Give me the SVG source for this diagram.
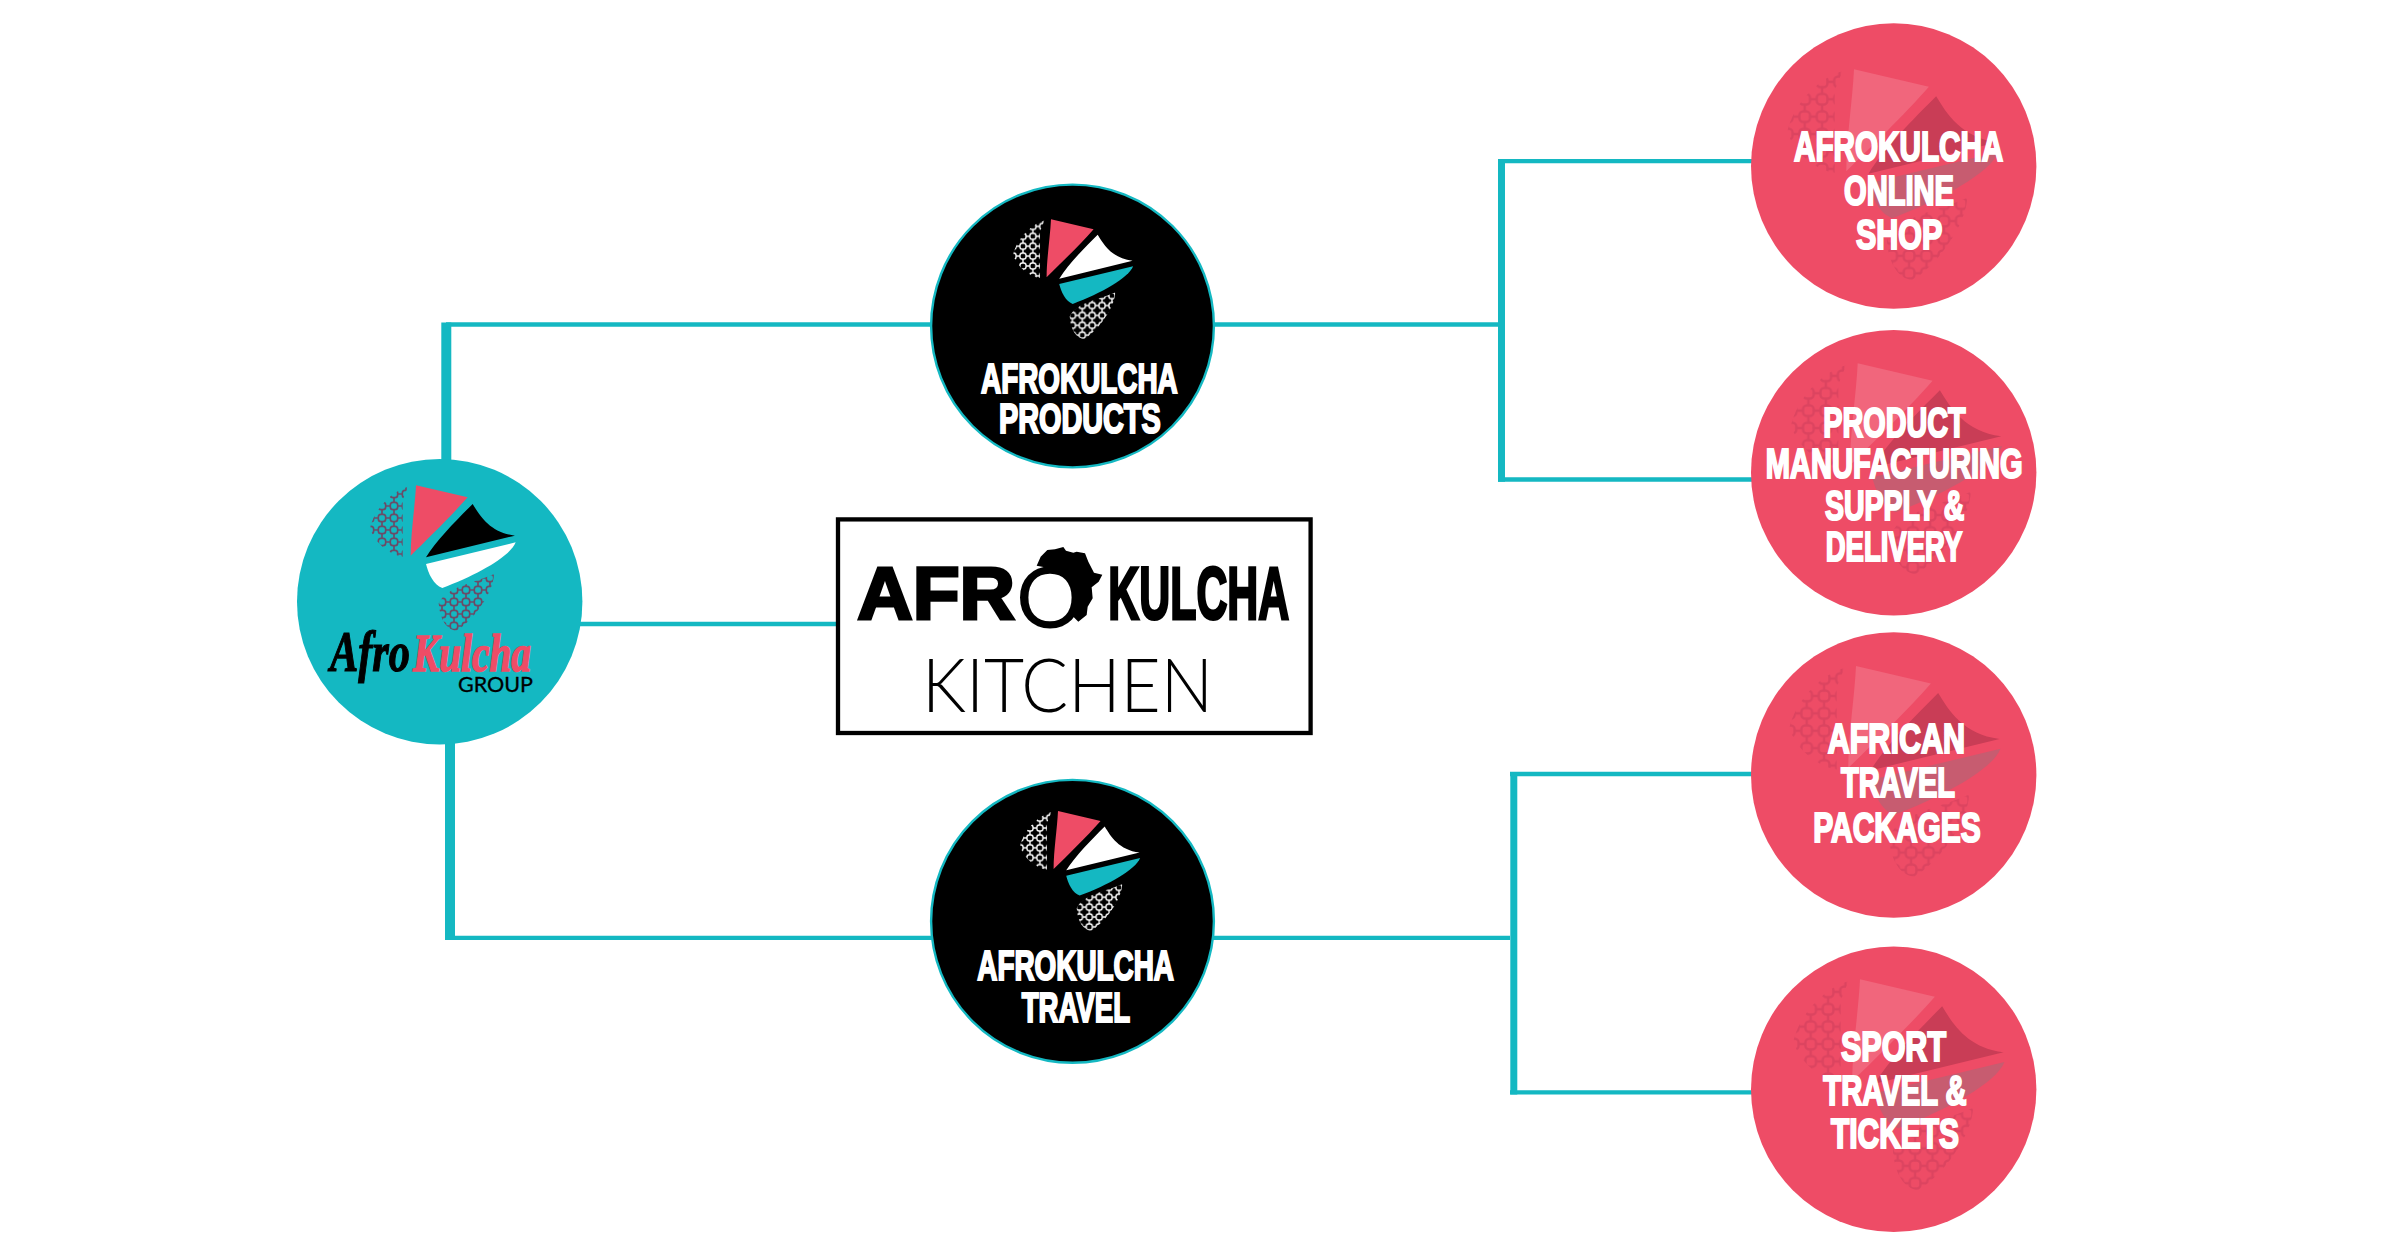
<svg xmlns="http://www.w3.org/2000/svg" width="2398" height="1247" viewBox="0 0 2398 1247">
<style>
.bg{fill:#fff}
.c{fill:none;stroke:#14b8c2;stroke-linejoin:miter}
.thin{stroke-width:4.3}
.mid{stroke-width:7}
.wide{stroke-width:10}
.teal{fill:#14b8c2}
.dark{fill:#000;stroke:#14b8c2;stroke-width:2.4}
.pink{fill:#ee4c66}
.h{font-family:"Liberation Sans",Arial,sans-serif;font-weight:700;font-size:42px;fill:#fff;stroke:#fff;stroke-width:2.2}
.k{font-family:"Liberation Sans",Arial,sans-serif;font-weight:700;font-size:74px;fill:#000;stroke:#000;stroke-width:3}
.lg{--a:#ee4c66;--b:#000;--c:#fff}
.ld{--a:#ee4c66;--b:#fff;--c:#14b8c2}
.lp{--a:#f1667c;--b:#c93d56;--c:#c75c70}
.p1{fill:var(--a)}.p2{fill:var(--b)}.p3{fill:var(--c)}
.ml{stroke:#6b4a66;fill:none;stroke-width:5}
.mw{stroke:#fff;fill:none;stroke-width:5}
.mp{stroke:#dc4460;fill:none;stroke-width:5}
</style>
<defs>
<g id="cell"><rect x="7" y="7" width="22" height="22" rx="8"/><path d="M0 18H7M29 18H36M18 0V7M18 29V36"/></g>
<pattern id="meshG" patternUnits="userSpaceOnUse" width="36" height="36" class="ml"><use href="#cell"/></pattern>
<pattern id="meshD" patternUnits="userSpaceOnUse" width="36" height="36" class="mw"><use href="#cell"/></pattern>
<pattern id="meshP" patternUnits="userSpaceOnUse" width="36" height="36" class="mp"><use href="#cell"/></pattern>
<g id="shapes" transform="scale(.33333) translate(-270,-136)">
<path class="p1" d="M408 136L563 172C510 232 440 300 392 347C392 280 405 200 408 136Z"/>
<path class="p2" d="M578 192C600 228 630 278 705 287L438 352C470 300 530 240 578 192Z"/>
<path class="p3" d="M707 307C690 350 590 405 487 444C460 435 445 400 438 372Z"/>
</g>
<path id="m1" d="M384 140C330 155 280 215 270 265C285 310 330 345 368 350V180Z"/>
<path id="m2" d="M642 402C640 460 580 540 530 572C500 570 480 540 476 490C500 440 580 430 642 402Z"/>
</defs>
<rect class="bg" width="2398" height="1247"/>
<g id="connectors">
<path class="c thin" d="M446 324.5H932"/>
<path class="c wide" d="M446.3 322.4V480"/>
<path class="c thin" d="M450 937.8H932"/>
<path class="c wide" d="M450 730V940"/>
<path class="c thin" d="M575 624H838"/>
<path class="c thin" d="M1210 324.5H1498"/>
<path class="c mid" d="M1501.5 159V481.7"/>
<path class="c thin" d="M1498 161.1H1755M1498 479.5H1755"/>
<path class="c thin" d="M1210 937.8H1510"/>
<path class="c mid" d="M1513.8 772V1094.4"/>
<path class="c thin" d="M1510 774H1755M1510 1092.3H1755"/>
</g>
<g id="node-group">
<circle class="teal" cx="439.7" cy="601.7" r="142.7"/>
<g class="lg" transform="translate(370,485.3)"><use href="#shapes"/><g transform="scale(.33333) translate(-270,-136)"><use href="#m1" fill="url(#meshG)"/><use href="#m2" fill="url(#meshG)"/></g></g>
<text x="330" y="671" font-family="'Liberation Serif',serif" font-style="italic" font-weight="700" font-size="58" fill="#000" stroke="#000" stroke-width="1.2" textLength="80" lengthAdjust="spacingAndGlyphs">Afro</text>
<text x="413" y="671" font-family="'Liberation Serif',serif" font-style="italic" font-weight="700" font-size="52" fill="#ee4c66" stroke="#ee4c66" stroke-width="1.6" textLength="118" lengthAdjust="spacingAndGlyphs">Kulcha</text>
<text x="458" y="692.3" font-family="Lato,'Liberation Sans',sans-serif" font-size="21" fill="#000" stroke="#000" stroke-width=".3" textLength="75" lengthAdjust="spacingAndGlyphs">GROUP</text>
</g>
<g id="node-products">
<circle class="dark" cx="1072.5" cy="326" r="141.4"/>
<g class="ld" transform="translate(1013.1,219.3) scale(.824)"><use href="#shapes"/><g transform="scale(.33333) translate(-270,-136)"><use href="#m1" fill="url(#meshD)"/><use href="#m2" fill="url(#meshD)"/></g></g>
<text class="h" x="981" y="392.5" font-size="40" textLength="196.7" lengthAdjust="spacingAndGlyphs">AFROKULCHA</text>
<text class="h" x="999" y="433.3" font-size="40" textLength="161.7" lengthAdjust="spacingAndGlyphs">PRODUCTS</text>
</g>
<g id="node-kitchen">
<rect x="838" y="519.4" width="472.6" height="213.6" fill="#fff" stroke="#000" stroke-width="4.3"/>
<path fill="#000" transform="translate(820,500) scale(.33333)" d="M650 197L662 170L682 150L705 148L730 141L738 152L760 158L770 155L795 160L805 185L815 205L822 218L847 224L836 245L815 262L818 295L803 320L800 345L775 365L740 330L690 205Z"/>
<circle cx="1050" cy="597.5" r="26" fill="#fff"/>
<text class="k" x="857.3" y="619" textLength="157.7" lengthAdjust="spacingAndGlyphs">AFR</text>
<text x="1050" y="627.5" text-anchor="middle" font-family="Lato,'Liberation Sans',sans-serif" font-size="85" fill="#000">O</text>
<text class="k" x="1108.3" y="619" textLength="181" lengthAdjust="spacingAndGlyphs">KULCHA</text>
<text x="922" y="711.7" font-family="Lato,'Liberation Sans',sans-serif" font-weight="300" font-size="74" fill="#000" textLength="291" lengthAdjust="spacingAndGlyphs">KITCHEN</text>
</g>
<g id="node-travel">
<circle class="dark" cx="1072.5" cy="921.3" r="141.4"/>
<g class="ld" transform="translate(1020.1,811) scale(.824)"><use href="#shapes"/><g transform="scale(.33333) translate(-270,-136)"><use href="#m1" fill="url(#meshD)"/><use href="#m2" fill="url(#meshD)"/></g></g>
<text class="h" x="977.3" y="979.7" font-size="40" textLength="196.7" lengthAdjust="spacingAndGlyphs">AFROKULCHA</text>
<text class="h" x="1021.7" y="1021.7" font-size="40" textLength="108.3" lengthAdjust="spacingAndGlyphs">TRAVEL</text>
</g>
<g id="node-online-shop">
<circle class="pink" cx="1893.7" cy="166" r="142.7"/>
<g class="lp" transform="translate(1787.3,69.3) scale(1.45)"><use href="#shapes"/><g transform="scale(.33333) translate(-270,-136)"><use href="#m1" fill="url(#meshP)"/><use href="#m2" fill="url(#meshP)"/></g></g>
<text class="h" x="1794" y="160.7" textLength="209.3" lengthAdjust="spacingAndGlyphs">AFROKULCHA</text>
<text class="h" x="1844" y="204.7" textLength="110" lengthAdjust="spacingAndGlyphs">ONLINE</text>
<text class="h" x="1856" y="249" textLength="86.3" lengthAdjust="spacingAndGlyphs">SHOP</text>
</g>
<g id="node-manufacturing">
<circle class="pink" cx="1893.7" cy="472.7" r="142.7"/>
<g class="lp" transform="translate(1791,363.3) scale(1.45)"><use href="#shapes"/><g transform="scale(.33333) translate(-270,-136)"><use href="#m1" fill="url(#meshP)"/><use href="#m2" fill="url(#meshP)"/></g></g>
<text class="h" x="1823.3" y="436.7" textLength="142.4" lengthAdjust="spacingAndGlyphs">PRODUCT</text>
<text class="h" x="1765.7" y="478.3" textLength="257" lengthAdjust="spacingAndGlyphs">MANUFACTURING</text>
<text class="h" x="1825" y="520" textLength="139.3" lengthAdjust="spacingAndGlyphs">SUPPLY &amp;</text>
<text class="h" x="1825.7" y="560.7" textLength="136.6" lengthAdjust="spacingAndGlyphs">DELIVERY</text>
</g>
<g id="node-travel-packages">
<circle class="pink" cx="1893.7" cy="775" r="142.7"/>
<g class="lp" transform="translate(1789.3,666) scale(1.45)"><use href="#shapes"/><g transform="scale(.33333) translate(-270,-136)"><use href="#m1" fill="url(#meshP)"/><use href="#m2" fill="url(#meshP)"/></g></g>
<text class="h" x="1827.7" y="753.3" textLength="137.3" lengthAdjust="spacingAndGlyphs">AFRICAN</text>
<text class="h" x="1841" y="797.3" textLength="114" lengthAdjust="spacingAndGlyphs">TRAVEL</text>
<text class="h" x="1813.3" y="841.7" textLength="167.4" lengthAdjust="spacingAndGlyphs">PACKAGES</text>
</g>
<g id="node-sport-travel">
<circle class="pink" cx="1893.7" cy="1089.3" r="142.7"/>
<g class="lp" transform="translate(1793.3,979.3) scale(1.45)"><use href="#shapes"/><g transform="scale(.33333) translate(-270,-136)"><use href="#m1" fill="url(#meshP)"/><use href="#m2" fill="url(#meshP)"/></g></g>
<text class="h" x="1841" y="1060.7" textLength="105" lengthAdjust="spacingAndGlyphs">SPORT</text>
<text class="h" x="1823.3" y="1104.7" textLength="143.4" lengthAdjust="spacingAndGlyphs">TRAVEL &amp;</text>
<text class="h" x="1831" y="1148.3" textLength="128" lengthAdjust="spacingAndGlyphs">TICKETS</text>
</g>
</svg>
